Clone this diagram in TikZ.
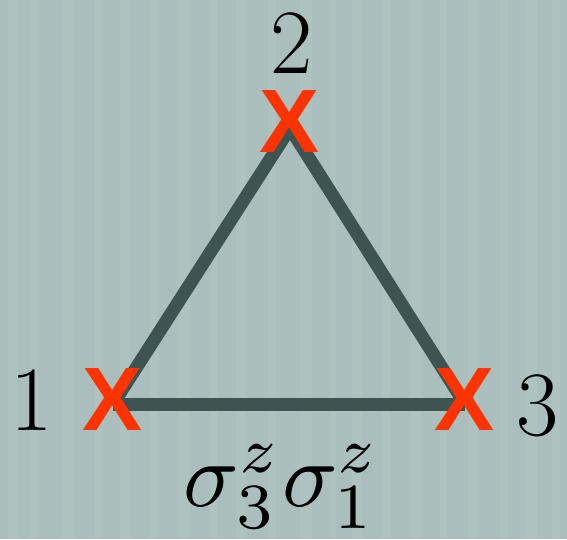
\documentclass[tikz,border=0pt]{standalone}
\usepackage{fontspec}
\newfontfamily\xfont{Liberation Sans}[BoldFont={* Bold}]
\definecolor{bg}{RGB}{170,191,189}
\definecolor{bgl}{RGB}{182,201,199}
\definecolor{edgec}{RGB}{62,84,82}
\definecolor{xred}{RGB}{255,51,0}
\tikzset{
  edgeline/.style={draw=edgec, line width=13pt},
  xmark/.style={inner sep=0pt, text=xred, font=\xfont\bfseries\fontsize{90}{90}\selectfont},
  lbl/.style={inner sep=0pt, font=\fontsize{92}{100}\selectfont},
  mlbl/.style={inner sep=0pt, font=\fontsize{10}{12}\selectfont, scale=9.2},
}
\begin{document}
\begin{tikzpicture}[x=1pt,y=-1pt]
\useasboundingbox (0,0) rectangle (567,539);
\fill[bg] (0,0) rectangle (567,539);
\foreach \s/\w in {8/10,30/8,62/12,95/6,120/10,150/8,178/12,210/7,236/10,268/8,300/12,330/6,352/10,382/9,410/12,440/7,468/10,500/8,525/12,552/8}{
  \fill[bgl, opacity=0.35] (\s,0) rectangle (\s+\w,539);
}
\coordinate (c1) at (113,404);
\coordinate (c2) at (290,128);
\coordinate (c3) at (465,404);
\draw[edgeline] (c1) -- (c2);
\draw[edgeline] (c2) -- (c3);
\draw[edgeline] (c1) -- (c3);
\node[xmark] (x1) at (113,400) {X};
\node[xmark] (x2) at (290,122) {X};
\node[xmark] (x3) at (465,400) {X};
\node[lbl, anchor=base] (l1) at (32,430) {1};
\node[lbl, anchor=base] (l2) at (292,73) {2};
\node[lbl, anchor=base] (l3) at (538,435) {3};
\node[mlbl, anchor=base] (l4) at (282,506) {$\sigma_3^z\sigma_1^z$};
\end{tikzpicture}
\end{document}
